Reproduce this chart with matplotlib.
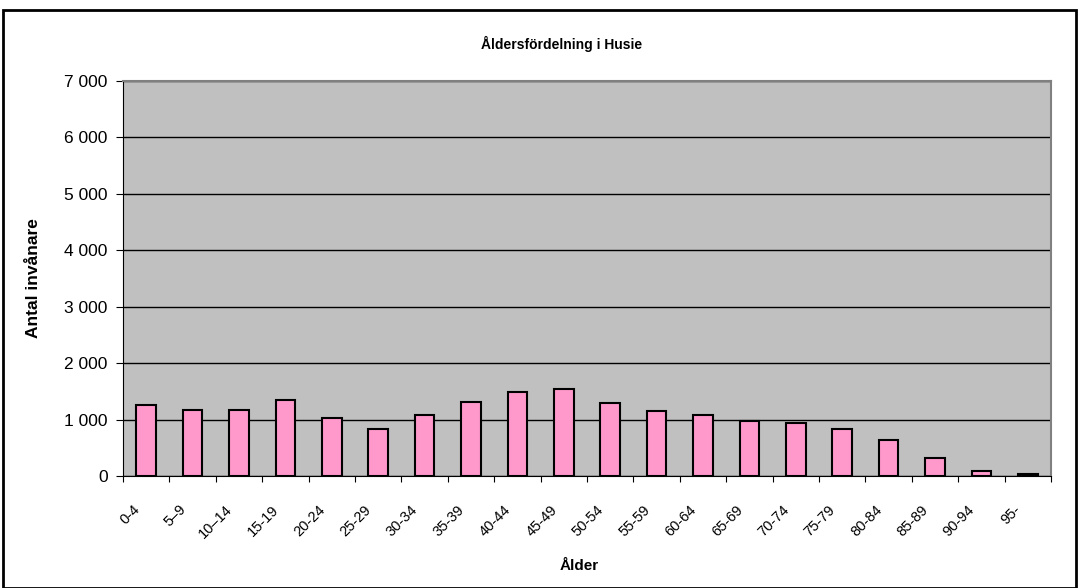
import matplotlib.pyplot as plt
import numpy as np
from matplotlib.patches import Rectangle
from matplotlib.ticker import FuncFormatter

plt.rcParams['font.family'] = ['Liberation Sans', 'DejaVu Sans']

# Age groups and number of inhabitants
age_groups = ['0-4', '5–9', '10–14', '15-19', '20-24', '25-29', '30-34', '35-39',
              '40-44', '45-49', '50-54', '55-59', '60-64', '65-69', '70-74',
              '75-79', '80-84', '85-89', '90-94', '95-']
inhabitants = [1266, 1178, 1178, 1349, 1030, 834, 1089, 1320, 1491, 1544,
               1296, 1148, 1089, 982, 947, 834, 633, 320, 95, 36]

fig = plt.figure(figsize=(10.8, 5.88), dpi=100)
ax = fig.add_axes([123 / 1080, 1 - 476 / 588, (1051 - 123) / 1080, (476 - 81) / 588])

# Outer chart border
fig.patches.append(Rectangle((3 / 1080, 0), 1073 / 1080, 1 - 10 / 588,
                             transform=fig.transFigure, fill=False,
                             edgecolor='black', linewidth=2))

x = np.arange(len(age_groups))
ax.set_facecolor('#C0C0C0')
ax.bar(x, inhabitants, width=0.42, color='#FF99CC', edgecolor='black',
       linewidth=1.5, zorder=3)

ax.set_xlim(-0.5, len(age_groups) - 0.5)
ax.set_ylim(0, 7000)
ax.set_yticks(np.arange(0, 7001, 1000))
ax.yaxis.set_major_formatter(FuncFormatter(lambda v, p: f'{int(v):,}'.replace(',', ' ')))
ax.grid(axis='y', color='black', linewidth=1, zorder=1)

# Category boundaries as ticks, rotated labels below each bar
ax.set_xticks(np.arange(-0.5, len(age_groups)), minor=False)
ax.set_xticklabels([])
ax.set_xticks(x - 0.3, minor=True)
ax.set_xticklabels(age_groups, minor=True, rotation=45, ha='right',
                   rotation_mode='anchor', fontsize=10.5)
ax.tick_params(axis='x', which='minor', length=0, pad=19)
ax.tick_params(axis='x', which='major', length=4, direction='out')
ax.tick_params(axis='y', length=5, direction='out', labelsize=12.5, pad=6)

for s in ['top', 'right']:
    ax.spines[s].set_color('#808080')
    ax.spines[s].set_linewidth(1.5)
for s in ['left', 'bottom']:
    ax.spines[s].set_color('black')

fig.text(562 / 1080, 1 - 44 / 588, 'Åldersfördelning i Husie', ha='center', va='center',
         fontsize=10, fontweight='bold')
fig.text(33 / 1080, 1 - 278 / 588, 'Antal invånare', rotation=90, ha='center',
         va='center', fontsize=12.5, fontweight='bold')
fig.text(579 / 1080, 1 - 566 / 588, 'Ålder', ha='center', va='center',
         fontsize=11, fontweight='bold')

fig.savefig('out.png', dpi=100)
